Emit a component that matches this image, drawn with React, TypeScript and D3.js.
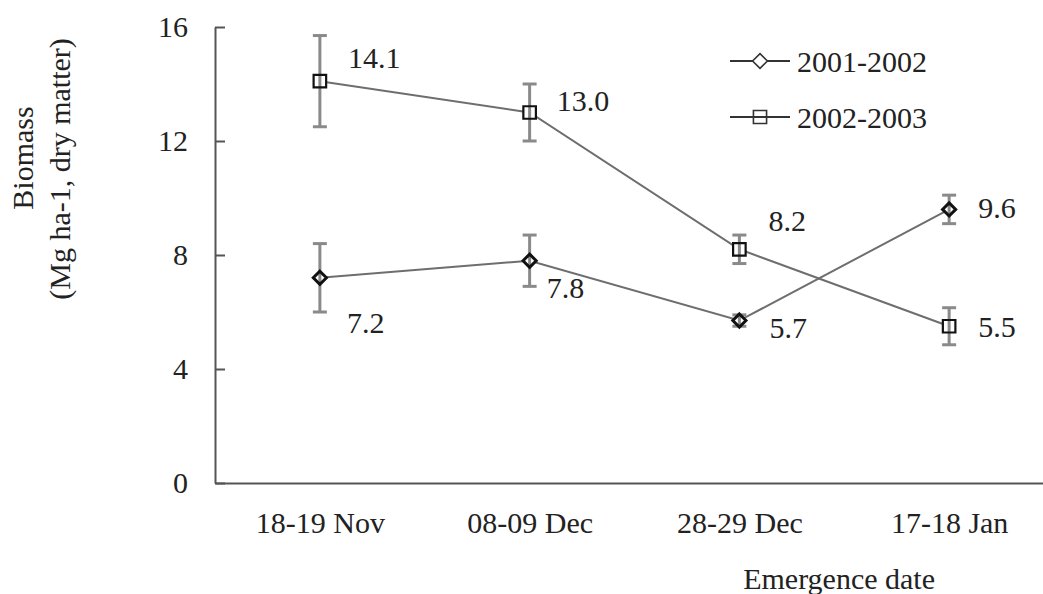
import React, { useRef, useEffect } from 'react';
import * as d3 from 'd3';

const categories = ['18-19 Nov', '08-09 Dec', '28-29 Dec', '17-18 Jan'];
const seriesNames = ['2001-2002', '2002-2003'];
const biomass0102 = [7.2, 7.8, 5.7, 9.6];
const error0102 = [1.2, 0.9, 0.2, 0.5];
const biomass0203 = [14.1, 13.0, 8.2, 5.5];
const error0203 = [1.6, 1.0, 0.5, 0.65];
const yTicks = [0, 4, 8, 12, 16];

// label offsets (dx, dy) relative to each point
const labelOffsets0102 = [[27, 55], [17, 37], [30, 17], [29, 9]];
const labelOffsets0203 = [[28, -13], [27, -2], [29, -18], [29, 11]];

const W = 1043;
const H = 594;
const FONT = '"Liberation Serif", "Times New Roman", serif';

const App: React.FC = () => {
  const svgRef = useRef<SVGSVGElement>(null);

  useEffect(() => {
    const svg = d3.select(svgRef.current);
    svg.selectAll('*').remove();

    const x = d3.scalePoint<string>().domain(categories).range([215, 1054]).padding(0.5);
    const y = d3.scaleLinear().domain([0, 16]).range([483, 27]);

    // y axis
    const yAxis = svg.append('g')
      .attr('transform', 'translate(215,0)')
      .call(d3.axisLeft(y).tickValues(yTicks).tickSizeInner(-10).tickSizeOuter(0).tickPadding(27));
    yAxis.select('.domain').attr('stroke', '#555').attr('stroke-width', 2);
    yAxis.selectAll('.tick line').attr('stroke', '#555').attr('stroke-width', 2);
    yAxis.selectAll('.tick text')
      .attr('font-family', FONT).attr('font-size', 30).attr('fill', '#222');

    // x axis
    const xAxis = svg.append('g')
      .attr('transform', 'translate(0,483)')
      .call(d3.axisBottom(x).tickSize(0).tickPadding(29));
    xAxis.select('.domain').attr('stroke', '#555').attr('stroke-width', 2);
    xAxis.selectAll('.tick text')
      .attr('font-family', FONT).attr('font-size', 30).attr('fill', '#222');

    // axis titles
    const yTitle = svg.append('g').attr('font-family', FONT).attr('font-size', 30).attr('fill', '#222')
      .attr('text-anchor', 'middle');
    yTitle.append('text').attr('transform', 'translate(33,158) rotate(-90)').text('Biomass');
    yTitle.append('text').attr('transform', 'translate(70,169) rotate(-90)').text('(Mg ha-1, dry matter)');

    svg.append('text')
      .attr('x', 935).attr('y', 589)
      .attr('text-anchor', 'end')
      .attr('font-family', FONT).attr('font-size', 30).attr('fill', '#222')
      .text('Emergence date');

    const series = [
      { name: seriesNames[0], values: biomass0102, errors: error0102, offsets: labelOffsets0102, shape: 'diamond' },
      { name: seriesNames[1], values: biomass0203, errors: error0203, offsets: labelOffsets0203, shape: 'square' },
    ];

    const line = d3.line<number>()
      .x((_, i) => x(categories[i])!)
      .y(d => y(d));

    const diamond = d3.symbol().type(d3.symbolDiamond2).size(110);
    const square = d3.symbol().type(d3.symbolSquare2).size(200);

    series.forEach(s => {
      const g = svg.append('g');
      g.append('path')
        .attr('d', line(s.values))
        .attr('fill', 'none')
        .attr('stroke', '#6e6e6e')
        .attr('stroke-width', 2);

      const sym = s.shape === 'diamond' ? diamond : square;

      // white fill under error bars
      g.selectAll('.bg')
        .data(s.values)
        .enter()
        .append('path')
        .attr('transform', (d, i) => `translate(${x(categories[i])},${y(d)})`)
        .attr('d', sym() as string)
        .attr('fill', '#fff');

      const eb = g.selectAll('.eb')
        .data(s.values)
        .enter()
        .append('g')
        .attr('stroke', '#8a8a8a')
        .attr('stroke-width', 3);
      eb.append('line')
        .attr('x1', (_, i) => x(categories[i])!)
        .attr('x2', (_, i) => x(categories[i])!)
        .attr('y1', (d, i) => y(d + s.errors[i]))
        .attr('y2', (d, i) => y(d - s.errors[i]));
      [1, -1].forEach(sign => {
        eb.append('line')
          .attr('x1', (_, i) => x(categories[i])! - 7)
          .attr('x2', (_, i) => x(categories[i])! + 7)
          .attr('y1', (d, i) => y(d + sign * s.errors[i]))
          .attr('y2', (d, i) => y(d + sign * s.errors[i]));
      });

      g.selectAll('.mk')
        .data(s.values)
        .enter()
        .append('path')
        .attr('transform', (d, i) => `translate(${x(categories[i])},${y(d)})`)
        .attr('d', sym() as string)
        .attr('fill', 'none')
        .attr('stroke', '#111')
        .attr('stroke-width', s.shape === 'diamond' ? 3 : 2.2);

      g.selectAll('.lbl')
        .data(s.values)
        .enter()
        .append('text')
        .attr('x', (_, i) => x(categories[i])! + s.offsets[i][0])
        .attr('y', (d, i) => y(d) + s.offsets[i][1])
        .attr('font-family', FONT)
        .attr('font-size', 30)
        .attr('fill', '#222')
        .text(d => d.toFixed(1));
    });

    // legend
    const legend = svg.append('g');
    series.forEach((s, i) => {
      const ly = 61 + i * 56;
      const row = legend.append('g');
      row.append('line')
        .attr('x1', 730).attr('x2', 790).attr('y1', ly).attr('y2', ly)
        .attr('stroke', '#333').attr('stroke-width', 2);
      const sym = s.shape === 'diamond'
        ? d3.symbol().type(d3.symbolDiamond2).size(140)
        : d3.symbol().type(d3.symbolSquare2).size(220);
      row.append('path')
        .attr('transform', `translate(760,${ly})`)
        .attr('d', sym() as string)
        .attr('fill', s.shape === 'diamond' ? '#fff' : 'none')
        .attr('stroke', '#333')
        .attr('stroke-width', 1.6);
      row.append('text')
        .attr('x', 797).attr('y', ly + 11)
        .attr('font-family', FONT).attr('font-size', 30).attr('fill', '#222')
        .text(s.name);
    });
  }, []);

  return (
    <svg
      ref={svgRef}
      width={W}
      height={H}
      style={{ position: 'absolute', left: 0, top: 0, background: '#fff' }}
    />
  );
};

export default App;
